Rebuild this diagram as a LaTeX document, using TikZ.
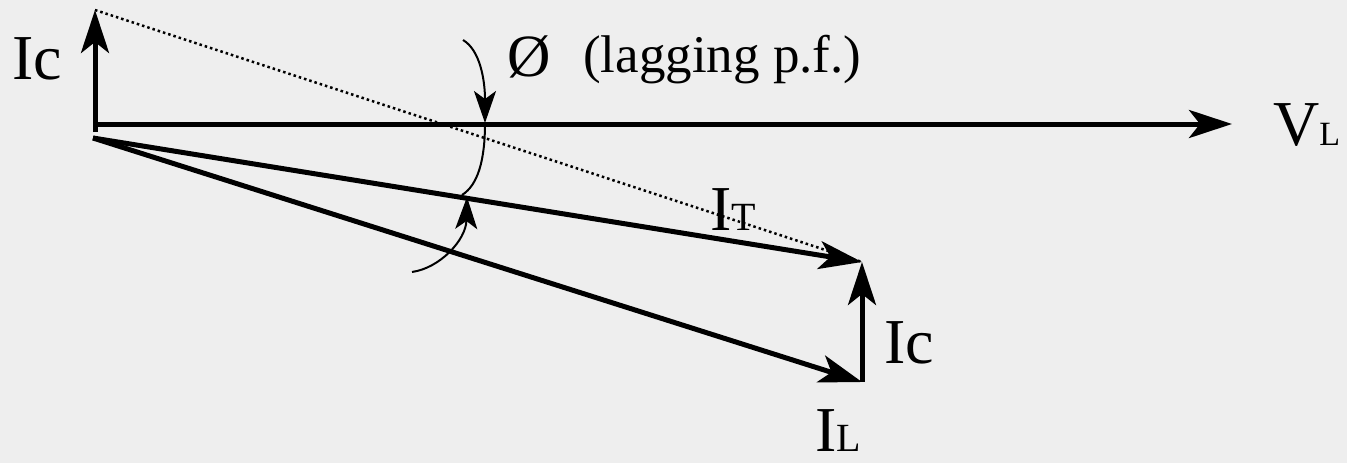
\documentclass[tikz,border=0pt]{standalone}
\usepackage{fontspec}
\setmainfont{Liberation Serif}
\usetikzlibrary{arrows.meta}
\definecolor{bgcol}{RGB}{238,238,238}
\newcommand{\smallsub}[2]{{\fontsize{#1}{#1}\selectfont #2}}
\tikzset{
  vec/.style={line width=5pt,-{Stealth[length=43pt,width=28pt,inset=11pt]}},
  arcarrow/.style={line width=2pt,-{Stealth[length=32pt,width=22pt,inset=8pt]}},
  arcline/.style={line width=2pt},
  lbl/.style={inner sep=0pt,font=\fontsize{64}{70}\selectfont}
}

\begin{document}
\begin{tikzpicture}[x=1pt,y=-1pt]
\fill[bgcol] (0,0) rectangle (1347,463);
\useasboundingbox (0,0) rectangle (1347,463);
\coordinate (O) at (95,124);
\coordinate (Obot) at (95,132);
\coordinate (Ctop) at (95,10);
\coordinate (Ostart) at (93,138);
\coordinate (IT) at (862,262);
\coordinate (IL) at (862,382);
\coordinate (VL) at (1232,124);
\coordinate (arcTop) at (463,40);
\coordinate (arcMid) at (485,123);
\coordinate (arcLow) at (462,195);
\coordinate (arcFoot) at (412,272);
\coordinate (arcTip) at (467,197);
\draw[dash pattern=on 2.5pt off 3pt,line width=2.5pt] (Ctop) -- (IT);
\draw[vec] (O) -- (VL);
\draw[vec] (Obot) -- (Ctop);
\draw[vec] (Ostart) -- (IT);
\draw[vec] (Ostart) -- (IL);
\draw[vec] (IL) -- (IT);
\draw[arcarrow] (arcTop) .. controls (480,50) and (485,80) .. (arcMid);
\draw[arcline] (arcMid) .. controls (485,160) and (478,185) .. (arcLow);
\draw[arcarrow] (arcFoot) .. controls (440,268) and (466,240) .. (arcTip);
\node[lbl,anchor=base] (IcTop) at (37,79) {Ic};
\node[lbl,anchor=base west] (VLlbl) at (1273,145) {V\smallsub{34}{L}};
\node[lbl,anchor=base west] (ITlbl) at (710,230) {I\smallsub{40}{T}};
\node[lbl,anchor=base west] (IcRight) at (884,363) {Ic};
\node[lbl,anchor=base west,text depth=0pt] (ILlbl) at (815,451) {I\smallsub{40}{L}};
\node[inner sep=0pt,anchor=base,font=\fontsize{60}{64}\selectfont] (phi) at (529,76) {Ø};
\node[inner sep=0pt,anchor=base west,font=\fontsize{53}{58}\selectfont] (lagging) at (583,72) {(lagging p.f.)};
\end{tikzpicture}
\end{document}
